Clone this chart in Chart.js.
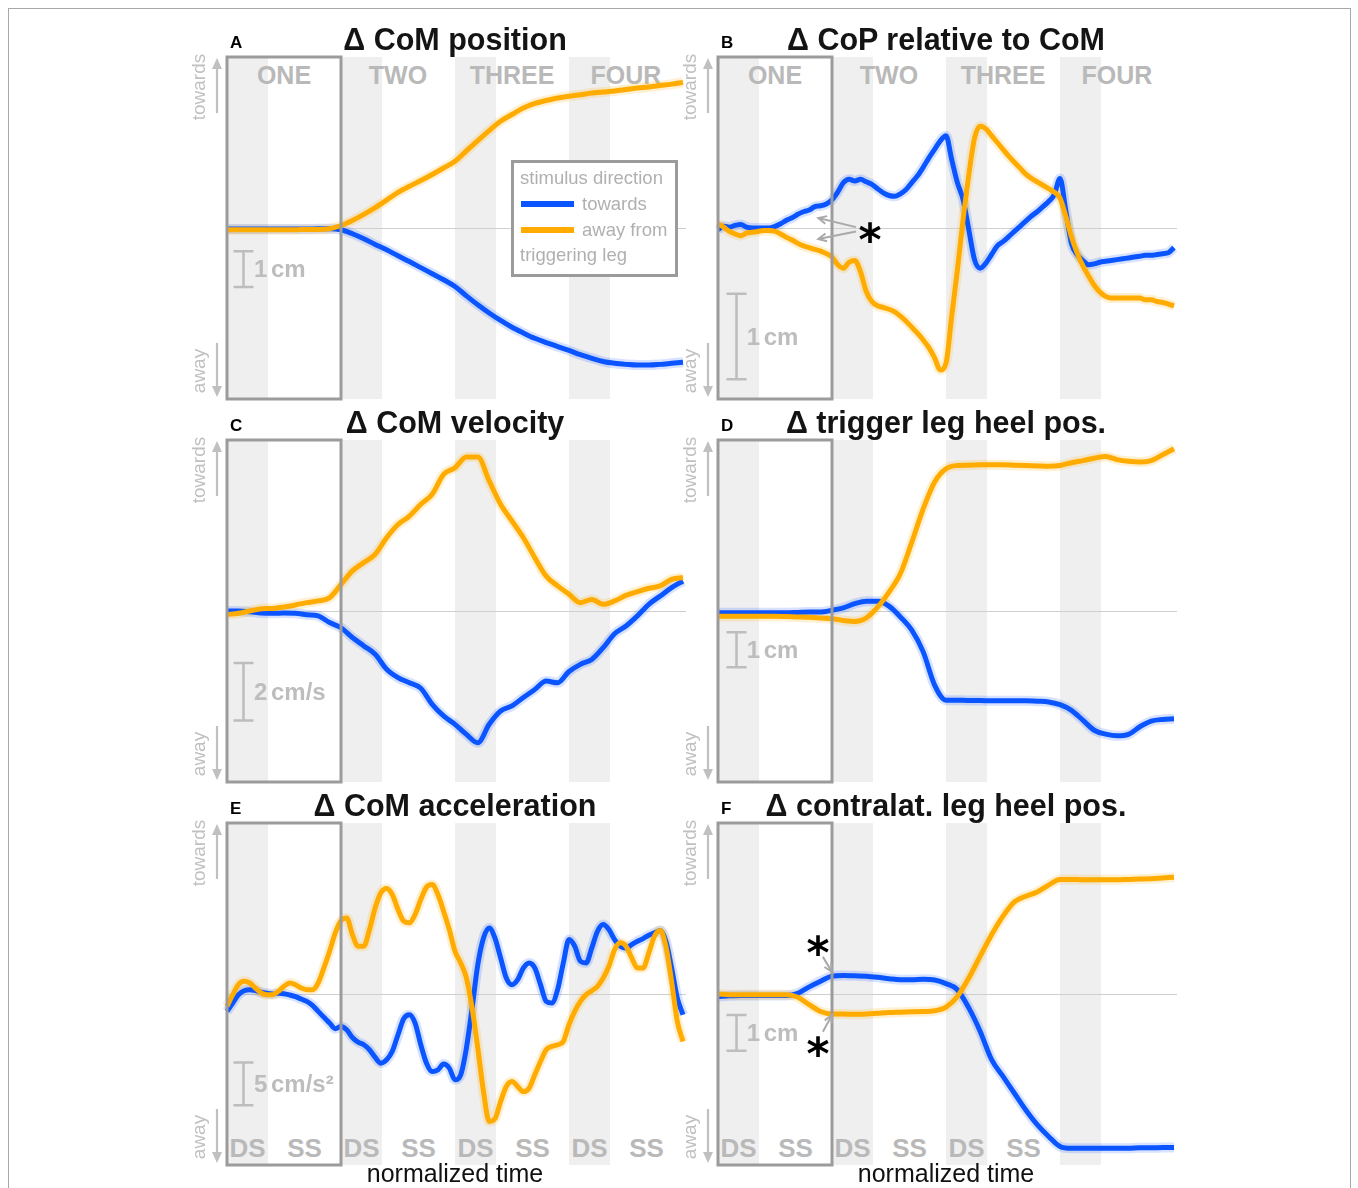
<!DOCTYPE html>
<html>
<head>
<meta charset="utf-8">
<script src="https://cdn.jsdelivr.net/npm/chart.js@4.4.0/dist/chart.umd.min.js"></script>
<style>
  html, body { margin: 0; padding: 0; background: #fff; }
  body { width: 1358px; height: 1188px; overflow: hidden; position: relative;
         font-family: "Liberation Sans", Arial, Helvetica, sans-serif; }
  .t { position: absolute; white-space: nowrap; line-height: 1; }
  .frame { position: absolute; left: 8px; top: 8px; width: 1341px; height: 1200px;
           border: 1px solid #a8a8a8; border-bottom: none; }
  .band { position: absolute; background: #efefef; z-index: 1; }
  .legend { position: absolute; left: 511px; top: 160px; width: 167px; height: 117px;
            box-sizing: border-box; border: 3px solid #9b9b9b; background: #fff; z-index: 4; }
  .legline { position: absolute; height: 6px; z-index: 5; }
</style>
</head>
<body>
<div class="frame"></div>
<script>
// ---- normalized time (in steps) ----
const stepTimeCoarse = [0,0.1,0.2,0.3,0.4,0.5,0.6,0.7,0.8,0.9,1,1.1,1.2,1.3,1.4,1.5,1.6,1.7,1.8,1.9,2,2.1,2.2,2.3,2.4,2.5,2.6,2.7,2.8,2.9,3,3.1,3.2,3.3,3.4,3.5,3.6,3.7,3.8,3.9,4];
const stepTimeFine = [0,0.05,0.1,0.15,0.2,0.25,0.3,0.35,0.4,0.45,0.5,0.55,0.6,0.65,0.7,0.75,0.8,0.85,0.9,0.95,1,1.05,1.1,1.15,1.2,1.25,1.3,1.35,1.4,1.45,1.5,1.55,1.6,1.65,1.7,1.75,1.8,1.85,1.9,1.95,2,2.05,2.1,2.15,2.2,2.25,2.3,2.35,2.4,2.45,2.5,2.55,2.6,2.65,2.7,2.75,2.8,2.85,2.9,2.95,3,3.05,3.1,3.15,3.2,3.25,3.3,3.35,3.4,3.45,3.5,3.55,3.6,3.65,3.7,3.75,3.8,3.85,3.9,3.95,4];

// ---- A: CoM position change (cm) ----
const comPositionTowards = [-0.03,-0.03,-0.03,-0.03,-0.03,-0.03,-0.03,-0.03,-0.02,-0.02,
  -0.05,-0.16,-0.3,-0.46,-0.61,-0.78,-0.94,-1.11,-1.28,-1.45,
  -1.64,-1.9,-2.15,-2.38,-2.59,-2.78,-2.94,-3.09,-3.21,-3.32,
  -3.43,-3.55,-3.65,-3.74,-3.79,-3.82,-3.84,-3.84,-3.82,-3.79,-3.76];
const comPositionAway = [-0.05,-0.05,-0.05,-0.05,-0.05,-0.05,-0.05,-0.04,-0.04,-0.02,
  0.07,0.21,0.38,0.57,0.78,1.0,1.17,1.33,1.5,1.68,
  1.87,2.16,2.45,2.73,2.99,3.18,3.36,3.49,3.57,3.64,
  3.69,3.73,3.78,3.81,3.84,3.88,3.92,3.95,3.99,4.03,4.08];

// ---- B: CoP relative to CoM (cm) ----
const copRelativeTowards = [-0.02,0.02,0.01,0.03,0.04,0.01,0,0,0,0,
  0.02,0.05,0.09,0.12,0.16,0.19,0.21,0.25,0.26,0.28,
  0.33,0.42,0.53,0.57,0.55,0.57,0.54,0.51,0.46,0.41,
  0.38,0.37,0.4,0.45,0.53,0.61,0.71,0.82,0.92,1.02,
  1.08,0.8,0.53,0.33,-0.02,-0.37,-0.47,-0.41,-0.31,-0.21,
  -0.16,-0.1,-0.04,0.02,0.08,0.14,0.19,0.25,0.31,0.39,
  0.58,0.21,-0.18,-0.31,-0.38,-0.43,-0.42,-0.4,-0.39,-0.38,
  -0.37,-0.36,-0.35,-0.34,-0.33,-0.32,-0.32,-0.31,-0.3,-0.29,
  -0.23];
const copRelativeAway = [0.05,0.01,-0.04,-0.07,-0.09,-0.06,-0.05,-0.04,-0.03,-0.03,
  -0.04,-0.07,-0.11,-0.14,-0.18,-0.21,-0.23,-0.25,-0.27,-0.3,
  -0.34,-0.43,-0.47,-0.4,-0.38,-0.51,-0.74,-0.86,-0.91,-0.93,
  -0.95,-0.98,-1.03,-1.09,-1.16,-1.23,-1.31,-1.4,-1.52,-1.66,
  -1.58,-1.03,-0.49,0.1,0.62,1.05,1.19,1.16,1.08,1.0,
  0.92,0.84,0.77,0.7,0.63,0.58,0.54,0.5,0.46,0.42,
  0.35,0.14,-0.1,-0.29,-0.44,-0.56,-0.67,-0.75,-0.8,-0.82,
  -0.82,-0.82,-0.82,-0.82,-0.82,-0.84,-0.84,-0.86,-0.87,-0.89,
  -0.91];

// ---- C: CoM velocity change (cm/s) ----
const comVelocityTowards = [0,0,-0.03,-0.07,-0.08,-0.07,-0.08,-0.13,-0.17,-0.4,
  -0.58,-0.92,-1.21,-1.5,-2.02,-2.31,-2.49,-2.68,-3.24,-3.64,
  -3.93,-4.28,-4.57,-3.93,-3.47,-3.29,-3.0,-2.72,-2.43,-2.49,
  -2.1,-1.85,-1.68,-1.27,-0.79,-0.52,-0.17,0.23,0.52,0.81,1.04];
const comVelocityAway = [-0.12,-0.08,0,0.08,0.09,0.14,0.21,0.29,0.35,0.46,
  0.92,1.39,1.68,1.97,2.54,3.0,3.29,3.7,4.05,4.74,
  4.97,5.34,5.34,4.51,3.7,3.12,2.54,1.85,1.21,0.87,
  0.58,0.29,0.4,0.23,0.35,0.54,0.67,0.79,0.87,1.1,1.16];

// ---- D: trigger leg heel position change (cm) ----
const triggerHeelTowards = [-0.05,-0.05,-0.05,-0.05,-0.05,-0.05,-0.05,-0.04,-0.03,-0.03,
  0.02,0.09,0.21,0.28,0.28,0.14,-0.17,-0.55,-1.17,-2.12,
  -2.55,-2.55,-2.56,-2.56,-2.57,-2.57,-2.57,-2.57,-2.58,-2.6,
  -2.68,-2.84,-3.12,-3.41,-3.52,-3.57,-3.53,-3.31,-3.15,-3.1,-3.08];
const triggerHeelAway = [-0.15,-0.15,-0.15,-0.15,-0.15,-0.15,-0.16,-0.17,-0.18,-0.2,
  -0.22,-0.27,-0.3,-0.2,0.11,0.54,1.07,1.97,2.92,3.69,
  4.07,4.16,4.17,4.18,4.18,4.18,4.17,4.16,4.15,4.14,
  4.16,4.24,4.3,4.37,4.42,4.33,4.28,4.26,4.3,4.47,4.64];

// ---- E: CoM acceleration change (cm/s²) ----
const comAccelTowards = [-2.03,-1.05,-0.08,0.39,0.51,0.39,0.2,0.08,0,0.08,
  0.04,-0.12,-0.31,-0.59,-0.86,-1.33,-2.03,-2.73,-3.4,-4.06,
  -3.8,-4.18,-5.08,-5.63,-5.94,-6.52,-7.42,-8.09,-7.7,-6.7,
  -4.77,-2.89,-2.42,-3.4,-5.94,-8.09,-9.06,-8.87,-8.2,-8.67,
  -10.04,-9.45,-6.33,-1.64,3.44,6.56,7.73,6.56,4.22,1.88,
  1.09,1.68,3.05,3.63,3.05,1.09,-0.86,-1.05,0.51,3.63,
  6.37,5.59,3.83,3.63,5.39,7.34,8.13,7.54,6.37,5.59,
  5.39,5.78,6.17,6.48,6.88,7.15,7.42,6.17,3.05,-0.47,
  -2.42];
const comAccelAway = [-1.45,-0.08,1.09,1.48,1.29,0.7,0.12,-0.08,-0.08,0.31,
  0.9,1.29,1.09,0.7,0.51,0.51,1.29,3.05,5.0,7.15,
  8.6,8.9,6.95,5.59,5.59,7.54,10.08,11.84,12.34,11.64,
  9.88,8.52,8.32,9.3,11.05,12.5,12.81,11.64,9.69,7.54,
  5.0,3.63,1.88,-1.64,-6.33,-11.41,-14.9,-14.6,-12.58,-10.82,
  -10.23,-10.82,-11.41,-11.02,-9.45,-7.89,-6.52,-6.13,-5.94,-5.55,
  -3.59,-2.03,-0.86,-0.08,0.39,0.9,1.88,3.24,5.2,5.98,
  5.59,4.22,3.05,3.05,4.8,6.76,7.42,5.59,1.48,-3.2,
  -5.55];

// ---- F: contralateral leg heel position change (cm) ----
const contraHeelTowards = [-0.07,-0.05,-0.04,-0.04,-0.04,-0.04,-0.04,0.02,0.2,0.36,
  0.5,0.52,0.51,0.5,0.47,0.43,0.4,0.4,0.41,0.39,
  0.29,0.12,-0.39,-1.05,-1.84,-2.31,-2.78,-3.25,-3.66,-3.99,
  -4.27,-4.32,-4.32,-4.32,-4.32,-4.32,-4.32,-4.31,-4.31,-4.3,-4.3];
const contraHeelAway = [0,-0.02,-0.02,-0.02,-0.02,-0.02,-0.02,-0.09,-0.3,-0.49,
  -0.56,-0.56,-0.57,-0.56,-0.54,-0.52,-0.51,-0.5,-0.49,-0.47,
  -0.37,-0.07,0.45,1.06,1.66,2.18,2.58,2.74,2.86,3.05,
  3.21,3.21,3.2,3.2,3.2,3.2,3.21,3.22,3.23,3.25,3.27];

// ---- phase labels ----
const stepNames = ['ONE', 'TWO', 'THREE', 'FOUR'];
const supportNames = ['DS', 'SS'];
const stepCount = 4;
const doubleSupportShare = 0.36;

// ---- styling ----
const FONT = '"Liberation Sans", Arial, Helvetica, sans-serif';
const BLUE = '#0a55ff', ORANGE = '#ffab00';
const BLUE_HALO = 'rgba(10,85,255,0.17)', ORANGE_HALO = 'rgba(255,171,0,0.18)';
const PAD = 14, PLOT_W = 456, PLOT_H = 342;
const LABEL_GREY = '#c0c0c0', PHASE_GREY = '#b9b9b9', BAR_GREY = '#bdbdbd';

const panels = [
  { letter: 'A', title: '\u0394 CoM position', left: 227, top: 57, time: stepTimeCoarse,
    towards: comPositionTowards, away: comPositionAway, half: 4.79,
    bar: { t: 0.14, from: -0.65, to: -1.65, label: '1 cm' }, top_labels: true },
  { letter: 'B', title: '\u0394 CoP relative to CoM', left: 718, top: 57, time: stepTimeFine,
    towards: copRelativeTowards, away: copRelativeAway, half: 2.0,
    bar: { t: 0.155, from: -0.77, to: -1.77, label: '1 cm' }, top_labels: true,
    pointers: [ { from: [1.21, 0.01], to: [0.88, 0.117] }, { from: [1.21, -0.04], to: [0.88, -0.128] } ],
    stars: [ [1.334, -0.02] ] },
  { letter: 'C', title: '\u0394 CoM velocity', left: 227, top: 440, time: stepTimeCoarse,
    towards: comVelocityTowards, away: comVelocityAway, half: 5.93,
    bar: { t: 0.14, from: -1.8, to: -3.8, label: '2 cm/s' } },
  { letter: 'D', title: '\u0394 trigger leg heel pos.', left: 718, top: 440, time: stepTimeCoarse,
    towards: triggerHeelTowards, away: triggerHeelAway, half: 4.89,
    bar: { t: 0.155, from: -0.61, to: -1.61, label: '1 cm' } },
  { letter: 'E', title: '\u0394 CoM acceleration', left: 227, top: 823, time: stepTimeFine,
    towards: comAccelTowards, away: comAccelAway, half: 20.0,
    bar: { t: 0.14, from: -8.0, to: -13.0, label: '5 cm/s\u00b2' }, bottom_labels: 4, xtitle: true },
  { letter: 'F', title: '\u0394 contralat. leg heel pos.', left: 718, top: 823, time: stepTimeCoarse,
    towards: contraHeelTowards, away: contraHeelAway, half: 4.79,
    bar: { t: 0.155, from: -0.59, to: -1.59, label: '1 cm' }, bottom_labels: 3, xtitle: true,
    pointers: [ { from: [0.92, 1.04], to: [1.0, 0.62] }, { from: [0.92, -1.06], to: [1.0, -0.59] } ],
    stars: [ [0.877, 1.43], [0.877, -1.39] ] }
];

// ---- helpers for text ----
function txt(s, x, base, size, o = {}) {
  const d = document.createElement('div');
  d.className = 't';
  d.textContent = s;
  const fam = o.family || FONT;
  d.style.font = `${o.weight || 'normal'} ${size}px ${fam}`;
  d.style.lineHeight = '1';
  d.style.color = o.color || '#111';
  d.style.top = (base - (o.asc || 0.8465) * size) + 'px';
  d.style.left = x + 'px';
  d.style.zIndex = o.z || 6;
  if (o.align === 'center') d.style.transform = 'translateX(-50%)';
  if (o.spacing) d.style.wordSpacing = o.spacing;
  document.body.appendChild(d);
  return d;
}
function rotTxt(s, cx, cy, size, color) {
  const d = document.createElement('div');
  d.className = 't';
  d.textContent = s;
  d.style.font = `normal ${size}px ${FONT}`;
  d.style.color = color;
  d.style.left = cx + 'px';
  d.style.top = cy + 'px';
  d.style.transform = 'translate(-50%,-50%) rotate(-90deg)';
  d.style.zIndex = 6;
  document.body.appendChild(d);
}

// ---- svg layer for the direction arrows beside each panel ----
const SVGNS = 'http://www.w3.org/2000/svg';
const svg = document.createElementNS(SVGNS, 'svg');
svg.setAttribute('width', 1358); svg.setAttribute('height', 1188);
svg.style.cssText = 'position:absolute;left:0;top:0;z-index:6;pointer-events:none;';
document.body.appendChild(svg);
function svgArrow(x, y1, y2) {
  const dir = Math.sign(y2 - y1);
  const l = document.createElementNS(SVGNS, 'line');
  l.setAttribute('x1', x); l.setAttribute('x2', x);
  l.setAttribute('y1', y1); l.setAttribute('y2', y2 - dir * 8);
  l.setAttribute('stroke', LABEL_GREY); l.setAttribute('stroke-width', 2.2);
  svg.appendChild(l);
  const h = document.createElementNS(SVGNS, 'polygon');
  h.setAttribute('points', `${x - 5},${y2 - dir * 11} ${x + 5},${y2 - dir * 11} ${x},${y2}`);
  h.setAttribute('fill', LABEL_GREY);
  svg.appendChild(h);
}

// ---- chart decoration plugin: zero line, first-step box, scale bar, pointer arrows ----
const panelOf = new WeakMap();
const decor = {
  id: 'decor',
  beforeDatasetsDraw(chart) {
    const { ctx, chartArea: a, scales: { y } } = chart;
    const y0 = Math.round(y.getPixelForValue(0)) + 0.5;
    ctx.save();
    ctx.strokeStyle = '#cfcfcf';
    ctx.lineWidth = 1;
    ctx.beginPath(); ctx.moveTo(a.left, y0); ctx.lineTo(a.right + 3, y0); ctx.stroke();
    ctx.restore();
  },
  afterDatasetsDraw(chart) {
    const p = panelOf.get(chart.canvas);
    const { ctx, chartArea: a, scales: { x, y } } = chart;
    ctx.save();
    // box around the first step
    ctx.strokeStyle = '#9b9b9b';
    ctx.lineWidth = 3;
    const bx1 = x.getPixelForValue(0), bx2 = x.getPixelForValue(1);
    ctx.strokeRect(bx1, a.top, bx2 - bx1, a.bottom - a.top);
    // scale bar
    const sx = Math.round(x.getPixelForValue(p.bar.t)) + 0.5;
    const sy1 = y.getPixelForValue(p.bar.from), sy2 = y.getPixelForValue(p.bar.to);
    ctx.strokeStyle = BAR_GREY;
    ctx.lineWidth = 2.5;
    ctx.beginPath();
    ctx.moveTo(sx, sy1); ctx.lineTo(sx, sy2);
    ctx.moveTo(sx - 10, sy1); ctx.lineTo(sx + 10, sy1);
    ctx.moveTo(sx - 10, sy2); ctx.lineTo(sx + 10, sy2);
    ctx.stroke();
    // pointer arrows
    (p.pointers || []).forEach(pt => {
      const x1 = x.getPixelForValue(pt.from[0]), y1 = y.getPixelForValue(pt.from[1]);
      const x2 = x.getPixelForValue(pt.to[0]), y2 = y.getPixelForValue(pt.to[1]);
      const ang = Math.atan2(y2 - y1, x2 - x1);
      ctx.strokeStyle = '#a9a9a9';
      ctx.lineWidth = 2;
      ctx.beginPath(); ctx.moveTo(x1, y1); ctx.lineTo(x2, y2); ctx.stroke();
      ctx.beginPath();
      ctx.moveTo(x2 - 9 * Math.cos(ang - 0.45), y2 - 9 * Math.sin(ang - 0.45));
      ctx.lineTo(x2, y2);
      ctx.lineTo(x2 - 9 * Math.cos(ang + 0.45), y2 - 9 * Math.sin(ang + 0.45));
      ctx.stroke();
    });
    ctx.restore();
  }
};

function series(p, values, color, width, order) {
  return {
    data: p.time.map((t, i) => ({ x: t, y: values[i] })),
    borderColor: color, borderWidth: width, pointRadius: 0, fill: false,
    cubicInterpolationMode: 'monotone', clip: false, order: order,
    borderCapStyle: 'butt', borderJoinStyle: 'round'
  };
}

panels.forEach(p => {
  const cv = document.createElement('canvas');
  cv.width = PLOT_W + 2 * PAD; cv.height = PLOT_H + 2 * PAD;
  const ox = p.left - PAD, oy = p.top - PAD;
  cv.style.cssText = `position:absolute;left:${ox}px;top:${oy}px;z-index:3;`;
  document.body.appendChild(cv);
  panelOf.set(cv, p);

  const chart = new Chart(cv, {
    type: 'line',
    data: { datasets: [
      series(p, p.away, ORANGE, 5, 1),
      series(p, p.towards, BLUE, 5, 2),
      series(p, p.away, ORANGE_HALO, 10, 3),
      series(p, p.towards, BLUE_HALO, 10, 4)
    ] },
    options: {
      responsive: false, animation: false, events: [], devicePixelRatio: 1,
      layout: { padding: PAD },
      plugins: { legend: { display: false }, tooltip: { enabled: false }, title: { display: false } },
      scales: {
        x: { type: 'linear', min: 0, max: stepCount, display: false },
        y: { type: 'linear', min: -p.half, max: p.half, display: false }
      }
    },
    plugins: [decor]
  });

  const xs = chart.scales.x, ys = chart.scales.y, area = chart.chartArea;
  const plotTop = oy + area.top, plotBottom = oy + area.bottom;

  // double-support shading
  for (let k = 0; k < stepCount; k++) {
    const b = document.createElement('div');
    b.className = 'band';
    const x1 = ox + xs.getPixelForValue(k), x2 = ox + xs.getPixelForValue(k + doubleSupportShare);
    b.style.left = x1 + 'px'; b.style.width = (x2 - x1) + 'px';
    b.style.top = plotTop + 'px'; b.style.height = (plotBottom - plotTop) + 'px';
    document.body.appendChild(b);
  }
  // step names / support phase names
  if (p.top_labels) {
    stepNames.forEach((n, k) => txt(n, ox + xs.getPixelForValue(k + 0.5), plotTop + 27, 25,
      { weight: 'bold', color: PHASE_GREY, align: 'center', z: 2 }));
  }
  if (p.bottom_labels) {
    for (let k = 0; k < p.bottom_labels; k++) {
      txt(supportNames[0], ox + xs.getPixelForValue(k + 0.18), plotBottom - 8, 26,
        { weight: 'bold', color: PHASE_GREY, align: 'center', z: 2 });
      txt(supportNames[1], ox + xs.getPixelForValue(k + 0.68), plotBottom - 8, 26,
        { weight: 'bold', color: PHASE_GREY, align: 'center', z: 2 });
    }
  }
  // scale bar label
  const barMid = oy + (ys.getPixelForValue(p.bar.from) + ys.getPixelForValue(p.bar.to)) / 2;
  const barX = ox + xs.getPixelForValue(p.bar.t);
  txt(p.bar.label, barX + 11, barMid + 0.716 * 24 / 2, 24,
    { weight: 'bold', color: BAR_GREY, spacing: '-3px' });
  // asterisks
  (p.stars || []).forEach(s => {
    const cx = ox + xs.getPixelForValue(s[0]), cy = oy + ys.getPixelForValue(s[1]);
    txt('*', cx, cy + 0.58 * 44, 44, { family: '"DejaVu Sans", sans-serif', weight: 'bold', asc: 0.846, color: '#000', align: 'center' });
  });

  // titles, panel letters, direction labels
  const mid = ox + (area.left + area.right) / 2;
  txt(p.title, mid, plotTop - 7, 30.5, { weight: 'bold', align: 'center', color: '#141414' });
  txt(p.letter, p.left + 3, plotTop - 9, 17, { weight: 'bold', color: '#000' });
  const lx = p.left - 28, ax = p.left - 10;
  rotTxt('towards', lx, plotTop + 30, 19, LABEL_GREY);
  rotTxt('away', lx, plotBottom - 28, 19, LABEL_GREY);
  svgArrow(ax, plotTop + 56, plotTop + 1);
  svgArrow(ax, plotBottom - 56, plotBottom - 2);
  if (p.xtitle) txt('normalized time', mid, 1182, 25, { align: 'center', color: '#111' });
});

// ---- legend ----
const leg = document.createElement('div');
leg.className = 'legend';
document.body.appendChild(leg);
txt('stimulus direction', 520, 185, 18.5, { color: '#b0b0b0' });
txt('towards', 582, 211, 18.5, { color: '#b0b0b0' });
txt('away from', 582, 237, 18.5, { color: '#b0b0b0' });
txt('triggering leg', 520, 262, 18.5, { color: '#b0b0b0' });
[[BLUE, 201], [ORANGE, 227]].forEach(([c, y]) => {
  const l = document.createElement('div');
  l.className = 'legline';
  l.style.left = '521px'; l.style.width = '53px'; l.style.top = y + 'px'; l.style.background = c;
  document.body.appendChild(l);
});
</script>
</body>
</html>
